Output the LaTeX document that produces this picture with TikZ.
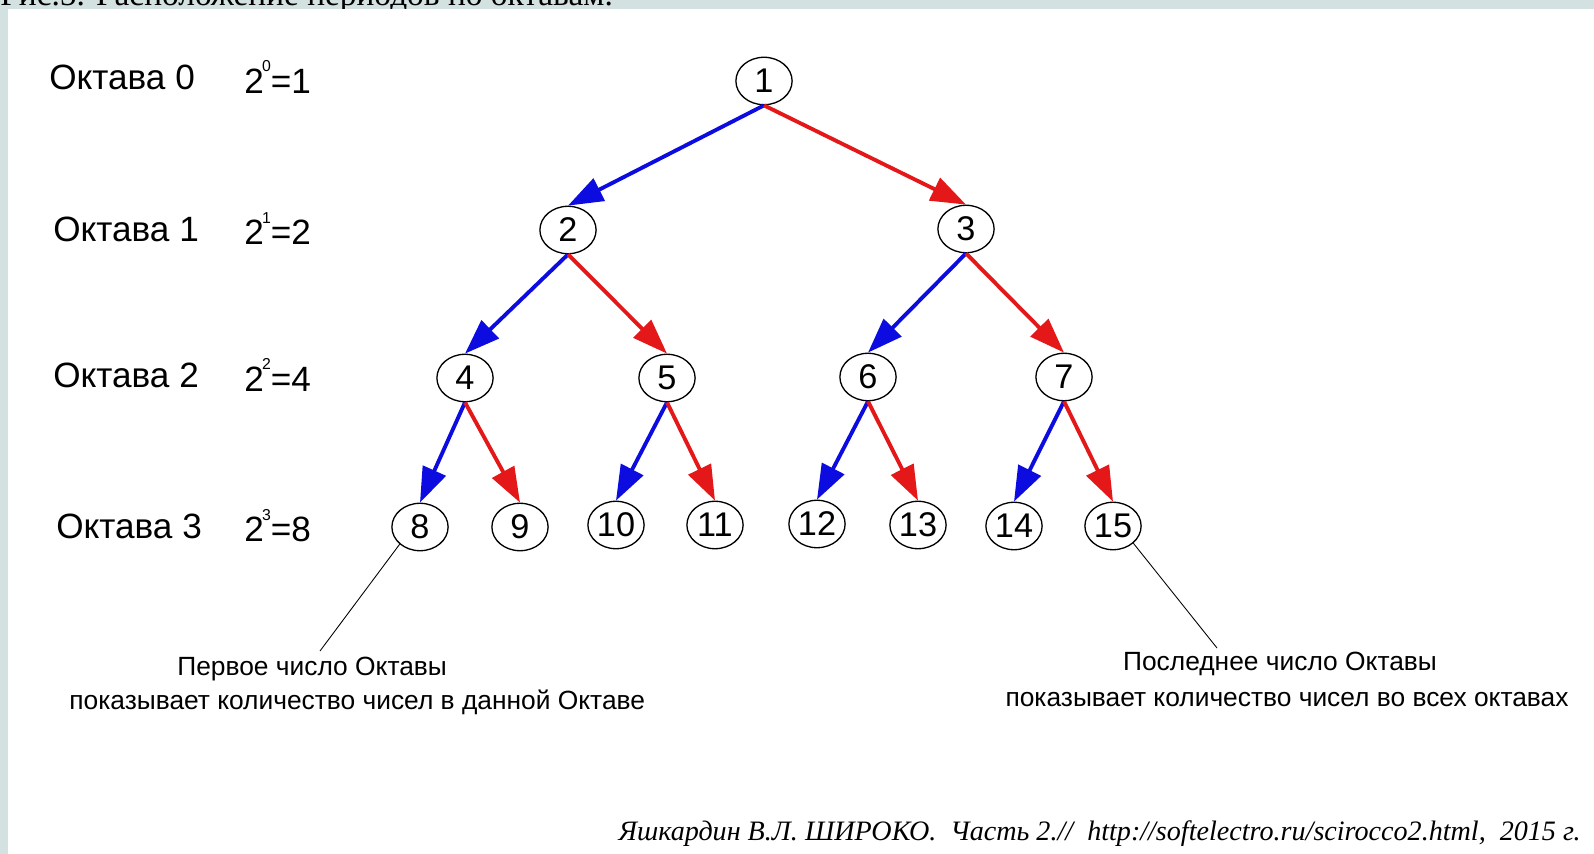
\documentclass[tikz,border=0pt]{standalone}
\usepackage{fontspec}
\setmainfont{Liberation Sans}
\newfontfamily\capfont{Liberation Serif}
\usetikzlibrary{shapes.geometric,arrows.meta}

\definecolor{bandgray}{RGB}{212,225,225}
\definecolor{leftblue}{RGB}{12,12,225}
\definecolor{rightred}{RGB}{228,24,24}

\begin{document}
\begin{tikzpicture}[x=0.02cm,y=-0.02cm,
	num/.style={draw,ellipse,line width=0.75pt,minimum width=32pt,minimum height=27pt,inner sep=0pt,font=\fontsize{19.5}{19.5}\selectfont},
	oct/.style={anchor=west,inner sep=0pt,font=\fontsize{20}{20}\selectfont},
	note/.style={inner sep=0pt,font=\fontsize{15}{15}\selectfont},
	lchild/.style={draw=leftblue,line width=2.2pt,-{Triangle[length=20pt,width=14pt]}},
	rchild/.style={draw=rightred,line width=2.2pt,-{Triangle[length=20pt,width=14pt]}}]
	
	\useasboundingbox (0,0) rectangle (1594,854);
	\fill[white] (0,0) rectangle (1594,854);
	\fill[bandgray] (0,0) rectangle (1594,9);
	\fill[bandgray] (0,0) rectangle (8,854);
	\begin{scope}
	\clip (0,0) rectangle (1594,9);
	\node[anchor=base west,inner sep=0pt,font=\capfont\fontsize{19}{19}\selectfont] (caption) at (0,6) {Рис.5. Расположение периодов по октавам.};
	\end{scope}
	
	% octaves
	\node[oct] (oct0) at (49,77) {Октава 0};
	\node[oct] (pow0) at (244,77) {2\raisebox{12pt}{\fontsize{9}{9}\selectfont\kern-1pt 0}=1};
	\node[oct] (oct1) at (53,229) {Октава 1};
	\node[oct] (pow1) at (244,229) {2\raisebox{12pt}{\fontsize{9}{9}\selectfont\kern-1pt 1}=2};
	\node[oct] (oct2) at (53,375) {Октава 2};
	\node[oct] (pow2) at (244,375) {2\raisebox{12pt}{\fontsize{9}{9}\selectfont\kern-1pt 2}=4};
	\node[oct] (oct3) at (56,526) {Октава 3};
	\node[oct] (pow3) at (244,526) {2\raisebox{12pt}{\fontsize{9}{9}\selectfont\kern-1pt 3}=8};
	
	% tree
	\node[num] (n1) at (764,81) {1};
	
	\node[num] (n2) at (568,230) {2};
	\node[num] (n3) at (966,229) {3};
	
	\node[num] (n4) at (465,378) {4};
	\node[num] (n5) at (667,378) {5};
	\node[num] (n6) at (868,377) {6};
	\node[num] (n7) at (1064,377) {7};
	
	\node[num] (n8) at (420,527) {8};
	\node[num] (n9) at (520,527) {9};
	\node[num] (n10) at (616,525) {10};
	\node[num] (n11) at (715,525) {11};
	\node[num] (n12) at (817,524) {12};
	\node[num] (n13) at (918,525) {13};
	\node[num] (n14) at (1014,526) {14};
	\node[num] (n15) at (1113,526) {15};
	
	\draw[lchild] (n1.south) -- (n2.north);
	\draw[rchild] (n1.south) -- (n3.north);
	
	\draw[lchild] (n2.south) -- (n4.north);
	\draw[rchild] (n2.south) -- (n5.north);
	\draw[lchild] (n3.south) -- (n6.north);
	\draw[rchild] (n3.south) -- (n7.north);
	
	\draw[lchild] (n4.south) -- (n8.north);
	\draw[rchild] (n4.south) -- (n9.north);
	\draw[lchild] (n5.south) -- (n10.north);
	\draw[rchild] (n5.south) -- (n11.north);
	\draw[lchild] (n6.south) -- (n12.north);
	\draw[rchild] (n6.south) -- (n13.north);
	\draw[lchild] (n7.south) -- (n14.north);
	\draw[rchild] (n7.south) -- (n15.north);
	
	% notes
	\coordinate (lead1) at (320,651);
	\coordinate (lead2) at (1217,648);
	\draw[line width=0.5pt] (n8.south west) -- (lead1);
	\draw[line width=0.5pt] (n15.south east) -- (lead2);
	\node[note,anchor=west] (first1) at (177,669) {Первое число Октавы};
	\node[note,anchor=west] (first2) at (69,702) {показывает количество чисел в данной Октаве};
	\node[note] (last1) at (1280,664) {Последнее число Октавы};
	\node[note] (last2) at (1287,700) {показывает количество чисел во всех октавах};
	
	\node[anchor=east,inner sep=0pt,font=\capfont\itshape\fontsize{16}{16}\selectfont] (credit) at (1581,834) {Яшкардин В.Л.\ ШИРОКО.\ \ Часть 2.//\ \ http://softelectro.ru/scirocco2.html,\ \ 2015 г.};
	
\end{tikzpicture}
\end{document}
